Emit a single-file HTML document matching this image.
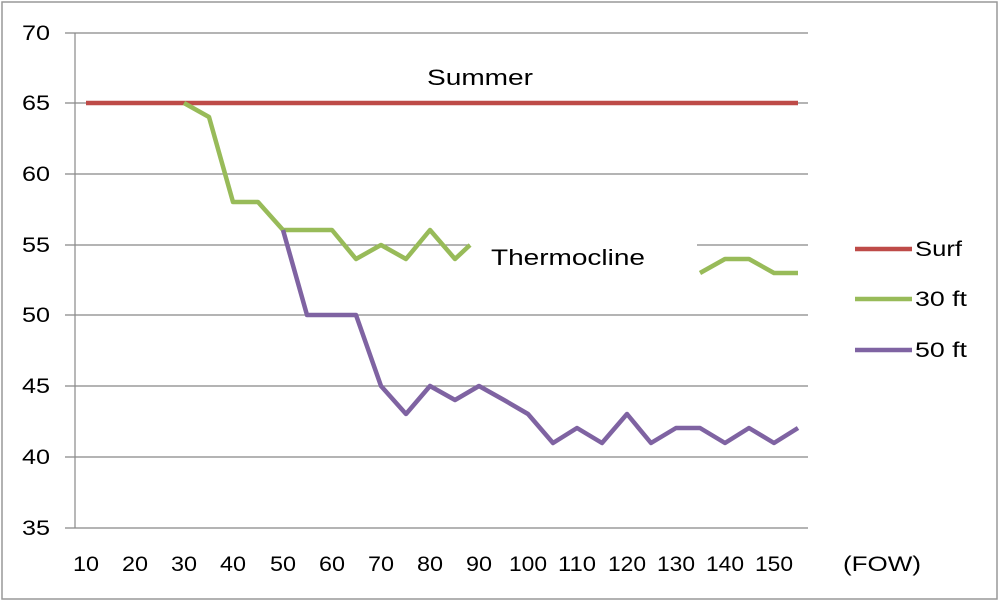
<!DOCTYPE html><html><head><style>body{margin:0;background:#fff}</style></head><body>
<svg width="1000" height="602" xmlns="http://www.w3.org/2000/svg" font-family="Liberation Sans, sans-serif">
<rect x="2" y="2" width="995" height="597" fill="#fff" stroke="#999" stroke-width="1.5"/>
<g stroke="#888" stroke-width="1.2">
<line x1="65" y1="33" x2="808" y2="33"/><line x1="65" y1="103" x2="808" y2="103"/>
<line x1="65" y1="174" x2="808" y2="174"/><line x1="65" y1="245" x2="470" y2="245"/><line x1="697" y1="245" x2="808" y2="245"/>
<line x1="65" y1="315" x2="808" y2="315"/><line x1="65" y1="386" x2="808" y2="386"/>
<line x1="65" y1="457" x2="808" y2="457"/><line x1="65" y1="528" x2="808" y2="528"/>
<line x1="75" y1="33" x2="75" y2="528"/>
</g>
<g font-size="21" fill="#000">
<text x="22" y="40" textLength="28" lengthAdjust="spacingAndGlyphs">70</text><text x="22" y="110" textLength="28" lengthAdjust="spacingAndGlyphs">65</text><text x="22" y="181" textLength="28" lengthAdjust="spacingAndGlyphs">60</text><text x="22" y="252" textLength="28" lengthAdjust="spacingAndGlyphs">55</text>
<text x="22" y="322" textLength="28" lengthAdjust="spacingAndGlyphs">50</text><text x="22" y="393" textLength="28" lengthAdjust="spacingAndGlyphs">45</text><text x="22" y="464" textLength="28" lengthAdjust="spacingAndGlyphs">40</text><text x="22" y="535" textLength="28" lengthAdjust="spacingAndGlyphs">35</text>
</g>
<g font-size="21" fill="#000" text-anchor="middle">
<text x="86" y="571" textLength="26" lengthAdjust="spacingAndGlyphs">10</text><text x="135" y="571" textLength="26" lengthAdjust="spacingAndGlyphs">20</text><text x="184" y="571" textLength="26" lengthAdjust="spacingAndGlyphs">30</text><text x="233" y="571" textLength="26" lengthAdjust="spacingAndGlyphs">40</text>
<text x="283" y="571" textLength="26" lengthAdjust="spacingAndGlyphs">50</text><text x="332" y="571" textLength="26" lengthAdjust="spacingAndGlyphs">60</text><text x="381" y="571" textLength="26" lengthAdjust="spacingAndGlyphs">70</text><text x="430" y="571" textLength="26" lengthAdjust="spacingAndGlyphs">80</text>
<text x="479" y="571" textLength="26" lengthAdjust="spacingAndGlyphs">90</text><text x="528" y="571" textLength="38" lengthAdjust="spacingAndGlyphs">100</text><text x="577" y="571" textLength="38" lengthAdjust="spacingAndGlyphs">110</text><text x="627" y="571" textLength="38" lengthAdjust="spacingAndGlyphs">120</text>
<text x="676" y="571" textLength="38" lengthAdjust="spacingAndGlyphs">130</text><text x="725" y="571" textLength="38" lengthAdjust="spacingAndGlyphs">140</text><text x="774" y="571" textLength="38" lengthAdjust="spacingAndGlyphs">150</text>
<text x="882" y="571" textLength="78" lengthAdjust="spacingAndGlyphs">(FOW)</text>
</g>
<text x="427" y="85" font-size="22" textLength="106" lengthAdjust="spacingAndGlyphs">Summer</text>
<text x="491" y="265" font-size="22" textLength="154" lengthAdjust="spacingAndGlyphs">Thermocline</text>
<g fill="none" stroke-width="4.5" stroke-linejoin="round">
<polyline stroke="#be4b48" points="86,103 798,103"/>
<polyline stroke="#98bb59" points="184,103 209,117 233,202 258,202 283,230 307,230 332,230 356,259 381,245 406,259 430,230 455,259 470,245"/>
<polyline stroke="#98bb59" points="700,273 725,259 749,259 774,273 798,273"/>
<polyline stroke="#7f63a2" points="283,230 307,315 332,315 356,315 381,386 406,414 430,386 455,400 479,386 504,400 528,414 553,443 577,428 602,443 627,414 651,443 676,428 700,428 725,443 749,428 774,443 798,428"/>
<line stroke="#be4b48" x1="855" y1="249" x2="912" y2="249"/>
<line stroke="#98bb59" x1="855" y1="299" x2="912" y2="299"/>
<line stroke="#7f63a2" x1="855" y1="350" x2="912" y2="350"/>
</g>
<g font-size="21"><text x="915" y="256" textLength="47" lengthAdjust="spacingAndGlyphs">Surf</text><text x="915" y="306" textLength="52" lengthAdjust="spacingAndGlyphs">30 ft</text><text x="915" y="357" textLength="52" lengthAdjust="spacingAndGlyphs">50 ft</text></g>
</svg></body></html>
